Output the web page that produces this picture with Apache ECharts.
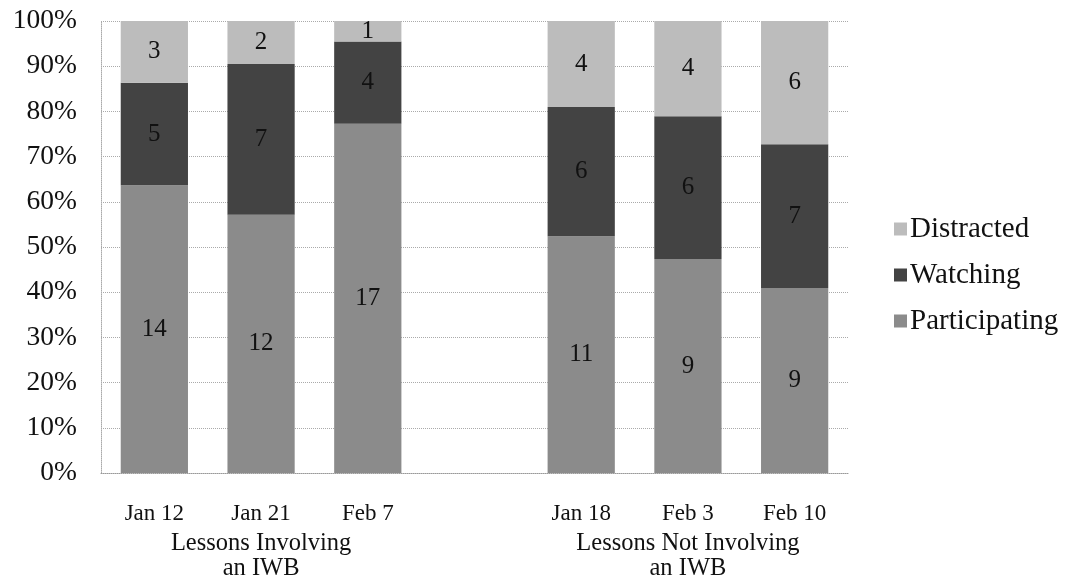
<!DOCTYPE html>
<html>
<head>
<meta charset="utf-8">
<script src="https://cdn.jsdelivr.net/npm/echarts@6/dist/echarts.min.js"></script>
<style>html,body{margin:0;padding:0;background:#fff}#c{width:1066px;height:581px}</style>
</head>
<body>
<div id="c"></div>
<script>
const categories = ['Jan 12', 'Jan 21', 'Feb 7', '', 'Jan 18', 'Feb 3', 'Feb 10'];
const groupLabels = ['', 'Lessons Involving\nan IWB', '', '', '', 'Lessons Not Involving\nan IWB', ''];
const participating = [14, 12, 17, null, 11, 9, 9];
const watching = [5, 7, 4, null, 6, 6, 7];
const distracted = [3, 2, 1, null, 4, 4, 6];
const yTicks = [0, 10, 20, 30, 40, 50, 60, 70, 80, 90, 100];

const totals = categories.map((_, i) =>
  participating[i] == null ? null : participating[i] + watching[i] + distracted[i]);
function pct(arr) {
  return arr.map((v, i) => v == null ? '-' : { value: v / totals[i] * 100, count: v });
}

const FONT = 'Liberation Serif';
const labelStyle = {
  show: true, position: 'inside', color: '#111', fontFamily: FONT, fontSize: 25,
  formatter: p => p.data && p.data.count != null ? String(p.data.count) : ''
};

const chart = echarts.init(document.getElementById('c'));
chart.setOption({
  animation: false,
  backgroundColor: '#fff',
  grid: { left: 101, right: 218, top: 21, bottom: 108, containLabel: false },
  legend: {
    orient: 'vertical', left: 889, top: 209,
    data: ['Distracted', 'Watching', 'Participating'],
    itemWidth: 13, itemHeight: 13, itemGap: 16, icon: 'rect',
    textStyle: { fontFamily: FONT, fontSize: 29, color: '#111', lineHeight: 30, padding: [0, 0, 0, -2] }
  },
  xAxis: [
    {
      type: 'category', data: categories, position: 'bottom',
      axisLine: { show: true, lineStyle: { color: '#999', type: 'dotted', width: 1 } },
      axisTick: { show: false },
      axisLabel: { interval: 0, margin: 29, fontFamily: FONT, fontSize: 23, color: '#111' }
    },
    {
      type: 'category', data: groupLabels, position: 'bottom',
      axisLine: { show: false }, axisTick: { show: false },
      axisLabel: { interval: 0, margin: 58, fontFamily: FONT, fontSize: 24.5, color: '#111', lineHeight: 25 }
    }
  ],
  yAxis: {
    type: 'value', min: yTicks[0], max: yTicks[yTicks.length - 1], interval: 10,
    axisLine: { show: true, lineStyle: { color: '#aaa', type: 'dotted' } },
    axisTick: { show: false },
    splitLine: { show: true, lineStyle: { color: '#aaa', type: 'dotted', width: 1 } },
    axisLabel: { margin: 24, fontFamily: FONT, fontSize: 27.5, color: '#111', formatter: '{value}%' }
  },
  series: [
    { name: 'Participating', type: 'bar', stack: 's', data: pct(participating), barCategoryGap: '37%',
      itemStyle: { color: '#8b8b8b' }, label: labelStyle },
    { name: 'Watching', type: 'bar', stack: 's', data: pct(watching),
      itemStyle: { color: '#434343' }, label: labelStyle },
    { name: 'Distracted', type: 'bar', stack: 's', data: pct(distracted),
      itemStyle: { color: '#bcbcbc' }, label: labelStyle }
  ]
});
</script>
</body>
</html>
